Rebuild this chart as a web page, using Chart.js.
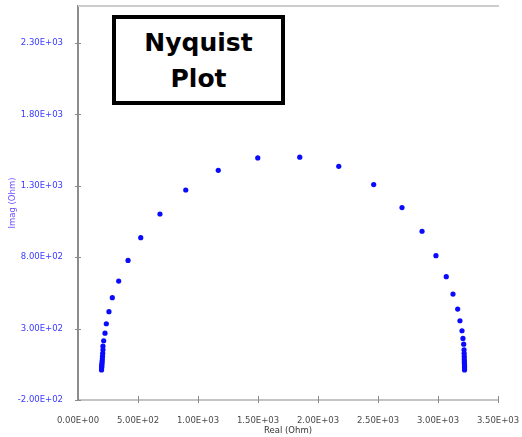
<!DOCTYPE html>
<html>
<head>
<meta charset="utf-8">
<title>Nyquist Plot</title>
<script src="https://cdn.jsdelivr.net/npm/chart.js@4.4.1/dist/chart.umd.min.js"></script>
<style>
  html, body { margin: 0; padding: 0; background: #ffffff; }
  #wrap { position: relative; width: 522px; height: 437px; }
  #plotTitle {
    position: absolute; left: 112px; top: 15px; width: 173px; height: 90px;
    box-sizing: border-box; border: 4px solid #000; background: #fff;
    font: bold 25px "DejaVu Sans", Verdana, sans-serif; color: #000;
    text-align: center; line-height: 36px; padding-top: 6px;
  }
</style>
</head>
<body>
<div id="wrap">
  <canvas id="chart" width="522" height="437"></canvas>
  <div id="plotTitle">Nyquist<br>Plot</div>
</div>
<script>
// Impedance spectrum: real part (Ohm) and negative imaginary part (Ohm)
const realOhm = [
  196, 196, 197, 198, 198, 200, 201, 203, 204, 206, 208, 208, 214, 225, 236, 258,
  286, 339, 417, 523, 683, 898, 1169, 1498,
  1848, 2173, 2464, 2700, 2867, 2983, 3069, 3125, 3164, 3183, 3200, 3208, 3214,
  3217, 3218, 3219, 3219, 3220, 3220, 3221, 3221, 3221, 3221, 3221
];
const imagOhm = [
  10, 17, 26, 35, 45, 57, 71, 88, 106, 127, 152, 177, 215, 268, 334, 419,
  517, 633, 778, 937, 1103, 1271, 1409, 1496,
  1501, 1437, 1309, 1148, 982, 811, 664, 542, 437, 355, 285, 231, 191,
  152, 127, 106, 88, 71, 57, 45, 35, 26, 17, 10
];

// Axis tick positions
const xTicks = [0, 500, 1000, 1500, 2000, 2500, 3000, 3500];
const yTicks = [-200, 300, 800, 1300, 1800, 2300];

// Scientific notation with a two-digit exponent, e.g. 2.30E+03
function sci(v) {
  if (v === 0) return '0.00E+00';
  const s = Math.abs(v).toExponential(2).toUpperCase();
  const parts = s.split('E');
  const exp = parseInt(parts[1], 10);
  const e = (exp < 0 ? '-' : '+') + String(Math.abs(exp)).padStart(2, '0');
  return (v < 0 ? '-' : '') + parts[0] + 'E' + e;
}

const points = realOhm.map((x, i) => ({ x: x, y: imagOhm[i] }));

// Short tick marks that cross the axis lines, plus the top frame line
const axisDecor = {
  id: 'axisDecor',
  afterDraw(chart) {
    const { ctx, chartArea, scales } = chart;
    const xs = scales.x, ys = scales.y;
    ctx.save();
    ctx.lineWidth = 2;
    ctx.strokeStyle = '#cccccc';
    ctx.beginPath();
    ctx.moveTo(chartArea.left, chartArea.top);
    ctx.lineTo(chartArea.right + 1, chartArea.top);
    ctx.stroke();

    ctx.lineWidth = 1;
    ctx.strokeStyle = '#8a8a8a';
    ys.ticks.forEach(t => {
      const py = Math.round(ys.getPixelForValue(t.value)) + 0.5;
      ctx.beginPath();
      ctx.moveTo(chartArea.left - 3, py);
      ctx.lineTo(chartArea.left + 3, py);
      ctx.stroke();
    });
    xs.ticks.forEach(t => {
      if (t.value === 0) return;
      const px = Math.round(xs.getPixelForValue(t.value)) + 0.5;
      ctx.beginPath();
      ctx.moveTo(px, chartArea.bottom - 4);
      ctx.lineTo(px, chartArea.bottom + 3);
      ctx.stroke();
    });
    ctx.restore();
  }
};

new Chart(document.getElementById('chart'), {
  type: 'scatter',
  data: {
    datasets: [{
      label: 'Z',
      data: points,
      pointRadius: 2.6,
      pointHoverRadius: 2.6,
      pointBackgroundColor: '#0a0aff',
      pointBorderWidth: 0,
      showLine: false
    }]
  },
  options: {
    responsive: false,
    animation: false,
    layout: { padding: { left: 0, top: 6, right: 24, bottom: 0 } },
    plugins: {
      legend: { display: false },
      tooltip: { enabled: false },
      title: { display: false }
    },
    scales: {
      x: {
        type: 'linear',
        min: 0,
        max: 3500,
        afterBuildTicks: s => { s.ticks = xTicks.map(v => ({ value: v })); },
        afterFit: s => { s.height = 37; s.paddingLeft = 0; s.paddingRight = 0; },
        grid: { display: false },
        border: { display: true, color: '#c4c4c4', width: 2 },
        ticks: {
          padding: 8,
          maxRotation: 0,
          color: '#4a4a4a',
          font: { family: '"DejaVu Sans", sans-serif', size: 8.5 },
          callback: v => sci(v)
        },
        title: {
          display: true,
          text: 'Real (Ohm)',
          color: '#333333',
          font: { family: '"DejaVu Sans", sans-serif', size: 8.5 },
          padding: { top: 0, bottom: 1 }
        }
      },
      y: {
        type: 'linear',
        min: -200,
        max: 2560,
        afterBuildTicks: s => { s.ticks = yTicks.map(v => ({ value: v })); },
        afterFit: s => { s.width = 78; s.paddingTop = 0; s.paddingBottom = 0; },
        grid: { display: false },
        border: { display: true, color: '#8c8c8c', width: 2 },
        ticks: {
          padding: 7,
          color: '#3a3aff',
          font: { family: '"DejaVu Sans", sans-serif', size: 8.5 },
          callback: v => sci(v)
        },
        title: {
          display: true,
          text: 'Imag (Ohm)',
          color: '#6a50ff',
          font: { family: '"DejaVu Sans", sans-serif', size: 8.5 },
          padding: { top: 8, bottom: 0 }
        }
      }
    }
  },
  plugins: [axisDecor]
});
</script>
</body>
</html>
